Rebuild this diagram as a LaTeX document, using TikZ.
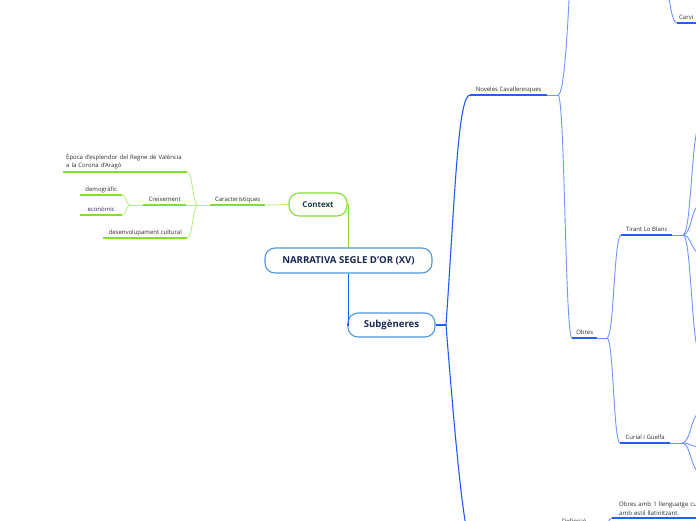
\documentclass[tikz,border=0pt]{standalone}
\usepackage{fontspec}
\setmainfont{Open Sans}
\usetikzlibrary{calc}
\definecolor{bdark}{RGB}{36,96,238}
\definecolor{blight}{RGB}{112,150,255}
\definecolor{bmain}{RGB}{30,92,250}
\definecolor{gdark}{RGB}{132,222,50}
\definecolor{glight}{RGB}{186,240,135}
\definecolor{boxblue}{RGB}{78,152,214}
\definecolor{navy}{RGB}{24,40,84}
\definecolor{teal}{RGB}{28,62,58}
\definecolor{txt}{RGB}{45,45,45}
\tikzset{
  lbl/.style={anchor=south west, inner xsep=2pt, inner ysep=2pt, font=\fontsize{6}{7}\selectfont, text=txt, minimum width=#1, text height=4.4pt, text depth=1.3pt},
  mlbl/.style={anchor=south west, inner xsep=3pt, inner ysep=2.5pt, font=\fontsize{6}{8}\selectfont, text=txt, text width=#1, align=left},
  bigbox/.style={draw=boxblue, line width=1.1pt, rounded corners=10pt, fill=white, text=navy, font=\bfseries\fontsize{9.6}{11}\selectfont},
  ctxbox/.style={draw=gdark, line width=1.1pt, rounded corners=10pt, fill=white, text=teal, font=\bfseries\fontsize{7.9}{9}\selectfont},
  scurve/.style={to path={let \p1=(\tikztostart),\p2=(\tikztotarget) in .. controls (\x1/2+\x2/2,\y1) and (\x1/2+\x2/2,\y2) .. (\tikztotarget)}},
  bl/.style={draw=blight, line width=0.9pt},
  bd/.style={draw=bdark, line width=1.7pt},
  gl/.style={draw=glight, line width=0.9pt},
  gd/.style={draw=gdark, line width=1.7pt},
}
\begin{document}
\begin{tikzpicture}[x=1pt,y=-1pt]
\useasboundingbox (0,0) rectangle (696,520);
\fill[white] (0,0) rectangle (696,520);
\clip (0,0) rectangle (696,520);

% central nodes
\node[ctxbox, minimum width=58pt, minimum height=23pt] (ctx) at (318,204.5) {Context};
\node[bigbox, minimum width=167pt, minimum height=25pt] (root) at (348.5,260.5) {NARRATIVA SEGLE D'OR (XV)};
\node[bigbox, minimum width=87pt, minimum height=24pt] (sub) at (391.5,325) {Subgèneres};

% left (green) topics
\node[lbl=55] (car) at (210,205) {Caracteristiques};
\node[mlbl=118] (epo) at (63,172) {Època d'esplendor del Regne de València\\a la Corona d'Aragó};
\node[lbl=43] (cre) at (143,205) {Creixement};
\node[lbl=42] (dem) at (80,195) {demogràfic};
\node[lbl=42] (eco) at (80,215) {econòmic};
\node[lbl=84] (des) at (103,238) {desenvolupament cultural};
\coordinate (bcar) at (198,205);
\coordinate (bcre) at (130,205);

% right (blue) topics
\node[lbl=77] (nov) at (470,95) {Noveles Cavalleresques};
\node[lbl=25] (obr) at (572,338) {Obres};
\node[lbl=51] (tir) at (621,235) {Tirant Lo Blanc};
\node[lbl=50] (cur) at (620,443) {Curial i Güelfa};
\node[lbl=18] (carv) at (677,23) {Carvi};
\coordinate (carvend) at (700,23);
\node[lbl=42] (def) at (553,527) {Definició};
\node[mlbl=110, inner xsep=7pt, font=\fontsize{6.1}{9}\selectfont] (oam) at (612,518) {Obres amb 1 llenguatge cult\\amb estil llatinitzant.};
\coordinate (bsub) at (446,325);
\coordinate (bnov) at (558,95);
\coordinate (bobr) at (607,338);
\coordinate (btir) at (683,235);
\coordinate (bcur) at (682,443);
\coordinate (bdef) at (604,527);
% off-picture ends
\coordinate (novup) at (585,-200);
\coordinate (carvp) at (655,-80);
\coordinate (subdown) at (478,560);
\coordinate (t1) at (700,125);
\coordinate (t2) at (700,205);
\coordinate (t3) at (700,253);
\coordinate (t4) at (700,353);
\coordinate (c1) at (700,413);
\coordinate (c2) at (700,447);
\coordinate (c3) at (700,472);

% green connectors
\draw[draw=gdark, line width=1.3pt] (ctx.east) -| (root.north);
\draw[gl] (ctx.west) -- (car.south east);
\draw[gl] (car.south west) -- (bcar);
\draw[gl] (bcar) to[scurve] (epo.south east);
\draw[gl] (bcar) to[scurve] (cre.south east);
\draw[gl] (bcar) to[scurve] (des.south east);
\draw[gl] (cre.south west) -- (bcre);
\draw[gl] (bcre) to[scurve] (dem.south east);
\draw[gl] (bcre) to[scurve] (eco.south east);
\foreach \n in {car,epo,cre,dem,eco,des} \draw[gd] (\n.south west) -- (\n.south east);

% blue connectors
\draw[draw=bmain, line width=1.3pt] (root.south) |- (sub.west);
\draw[draw=bmain, line width=1.3pt] (sub.east) -- (bsub);
\draw[draw=bmain, line width=1.1pt] (bsub) .. controls +(9,-130) and +(-12,0) .. (nov.south west);
\draw[draw=bmain, line width=1.1pt] (bsub) .. controls +(12,150) and +(-12,0) .. (subdown);
\draw[bl] (nov.south east) -- (bnov);
\draw[bl] (bnov) to[scurve] (novup);
\draw[bl] (bnov) to[scurve] (obr.south west);
\draw[bl] (obr.south east) -- (bobr);
\draw[bl] (bobr) to[scurve] (tir.south west);
\draw[bl] (bobr) to[scurve] (cur.south west);
\draw[bl] (tir.south east) -- (btir);
\draw[bl] (cur.south east) -- (bcur);
\foreach \c in {t1,t2,t3,t4} \draw[bl] (btir) to[scurve] (\c);
\foreach \c in {c1,c2,c3} \draw[bl] (bcur) to[scurve] (\c);
\draw[bl] (carvp) to[scurve] (carv.south west);
\draw[bl] (def.south east) -- (bdef);
\draw[bl] (bdef) to[scurve] (oam.south west);
\foreach \n in {nov,obr,tir,cur,def,oam} \draw[bd] (\n.south west) -- (\n.south east);
\draw[bd] (carv.south west) -- (carvend);
\end{tikzpicture}
\end{document}
